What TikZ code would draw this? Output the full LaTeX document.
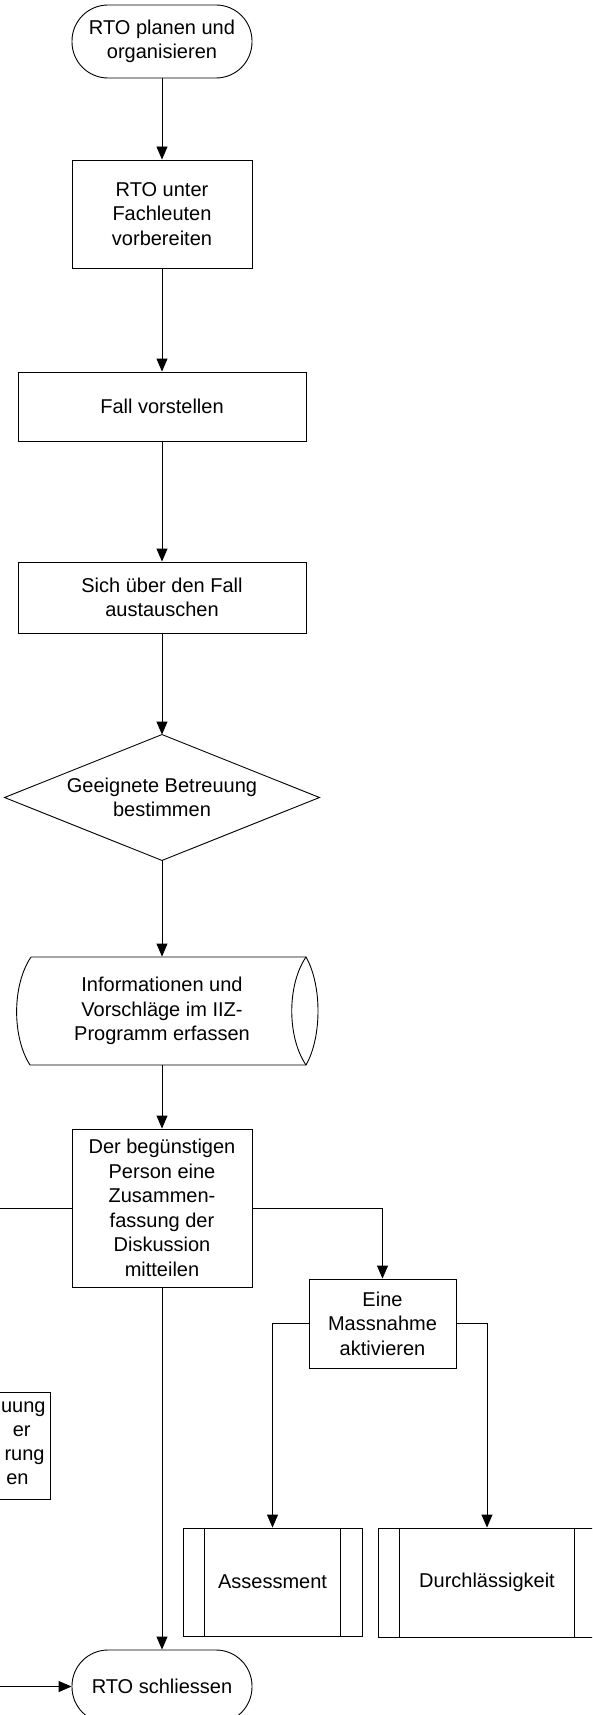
\documentclass[tikz,border=0pt]{standalone}
\usepackage{fontspec}
\setmainfont{Liberation Sans}
\usetikzlibrary{arrows.meta}
\begin{document}
\begin{tikzpicture}[x=1pt,y=-1pt,
  line width=0.9pt,
  every node/.style={font=\fontsize{20}{24.5}\selectfont, align=center, inner sep=0pt},
  term/.style={draw, rectangle, rounded corners=36pt, minimum width=180pt, minimum height=73pt},
  proc/.style={draw, rectangle},
  arr/.style={-{Triangle[length=13pt,width=11pt]}}
]
\useasboundingbox (0,0) rectangle (592,1715);
\clip (0,0) rectangle (592,1715);

% main column
\node[term] (start) at (162,41.5) {RTO planen und\\organisieren};
\node[proc, minimum width=180pt, minimum height=108pt] (prep) at (162,214) {RTO unter\\Fachleuten\\vorbereiten};
\node[proc, minimum width=288pt, minimum height=69pt] (fall) at (162,406.5) {Fall vorstellen};
\node[proc, minimum width=288pt, minimum height=71pt] (aus) at (162,597.5) {Sich über den Fall\\austauschen};

% decision
\node[minimum width=314pt, minimum height=125pt] (dec) at (162,797.5) {Geeignete Betreuung\\bestimmen};
\draw (dec.north) -- (dec.east) -- (dec.south) -- (dec.west) -- cycle;

% stored data
\node[minimum width=288pt, minimum height=108pt] (sd) at (162,1011) {Informationen und\\Vorschläge im IIZ-\\Programm erfassen};
\draw (31,957) -- (306,957) .. controls (322,985) and (322,1037) .. (306,1065)
      -- (30,1065) .. controls (12,1037) and (12,985) .. (31,957);
\draw (306,957) .. controls (287,985) and (287,1037) .. (306,1065);

\node[proc, minimum width=180pt, minimum height=158pt] (disc) at (162,1208) {Der begünstigen\\Person eine\\Zusammen-\\fassung der\\Diskussion\\mitteilen};

\node[proc, minimum width=147pt, minimum height=89pt] (mass) at (382.5,1323.5) {Eine\\Massnahme\\aktivieren};

% sub-processes
\node[proc, minimum width=179pt, minimum height=108pt] (ass) at (272.5,1582) {Assessment};
\draw ([xshift=22pt]ass.north west) -- ([xshift=22pt]ass.south west);
\draw ([xshift=-22pt]ass.north east) -- ([xshift=-22pt]ass.south east);

\node[proc, minimum width=218pt, minimum height=109pt] (dur) at (487,1582.5) {Durchlässigkeit};
\draw ([xshift=22pt]dur.north west) -- ([xshift=22pt]dur.south west);
\draw ([xshift=-22pt]dur.north east) -- ([xshift=-22pt]dur.south east);

\node[term] (end) at (162,1686.5) {RTO schliessen};

% left (cut off) box
\node[proc, minimum width=180pt, minimum height=107pt] (other) at (-40,1445.5) {};
\node[anchor=mid east] (o1) at (46,1410) {uung};
\node[anchor=mid east] (o2) at (31,1434) {er};
\node[anchor=mid east] (o3) at (45,1458) {rung};
\node[anchor=mid east] (o4) at (29,1482) {en};

% connectors
\draw[arr] (start) -- (prep);
\draw[arr] (prep) -- (fall);
\draw[arr] (fall) -- (aus);
\draw[arr] (aus) -- (dec.north);
\draw[arr] (dec.south) -- (sd.north);
\draw[arr] (sd.south) -- (disc);
\draw[arr] (disc.east) -| (mass.north);
\draw[arr] (mass.west) -| (ass.north);
\draw[arr] (mass.east) -| (dur.north);
\draw[arr] (disc.south) -- (end.north);
\coordinate (lft) at (-60,1208);
\draw (disc.west) -- (lft);
\coordinate (lin) at (-60,1686.5);
\draw[arr] (lin) -- (end.west);
\end{tikzpicture}
\end{document}
